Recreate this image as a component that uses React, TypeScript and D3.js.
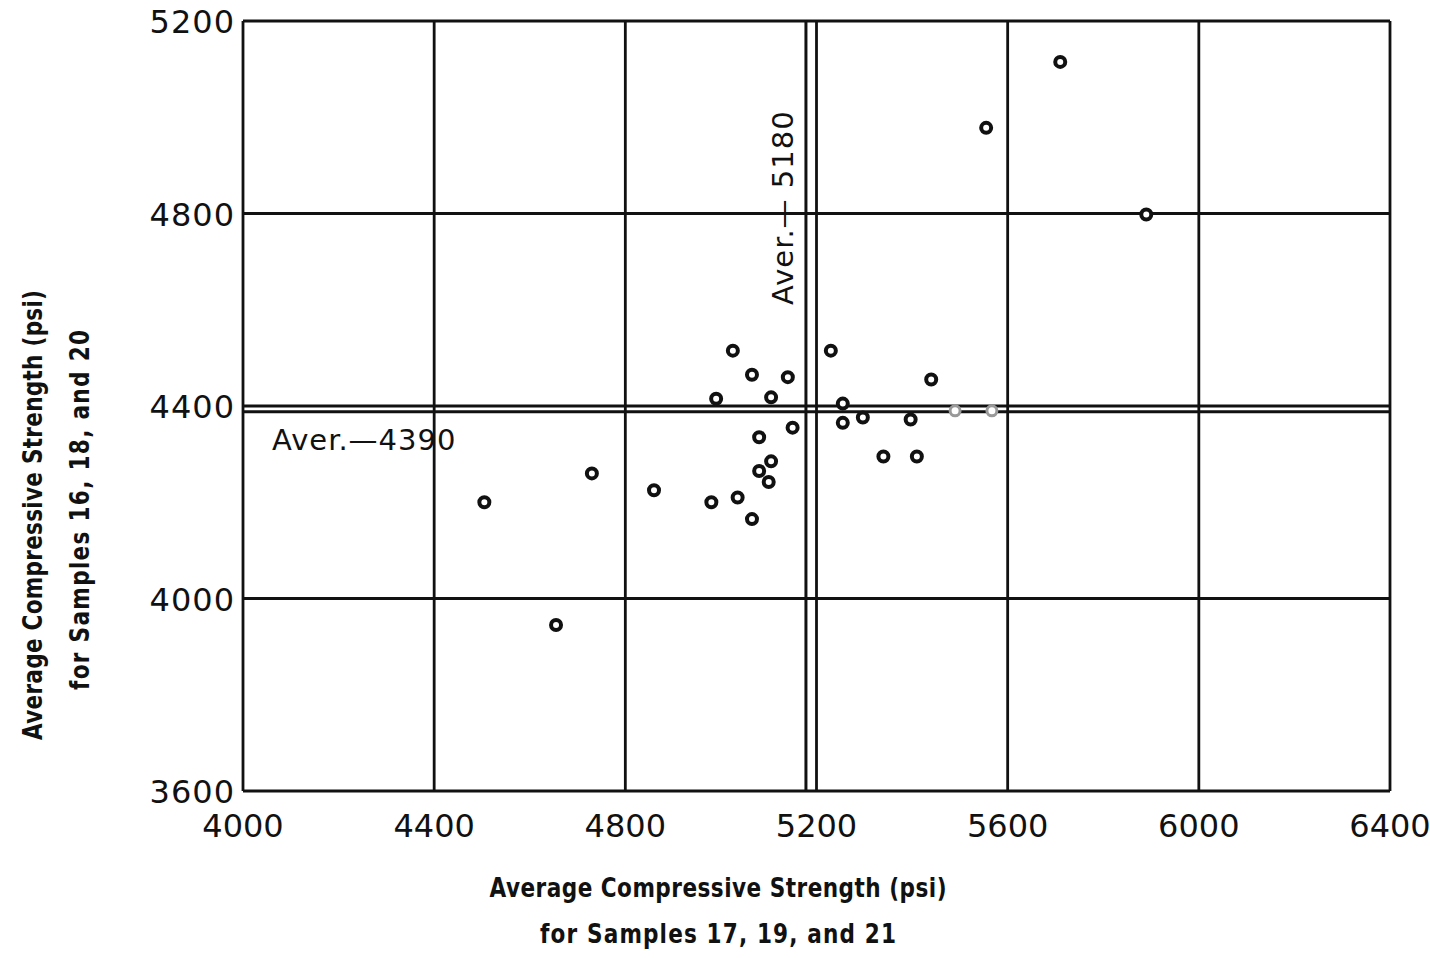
import React from "react";
import * as d3 from "d3";

// readings (psi)
const xTicks = [4000, 4400, 4800, 5200, 5600, 6000, 6400];
const yTicks = [3600, 4000, 4400, 4800, 5200];

const sampleX = [
  4505, 4655, 4730, 4860, 4980, 4990, 5025, 5035, 5065, 5065, 5080, 5080,
  5105, 5105, 5100, 5140, 5150, 5230, 5255, 5255, 5297, 5340, 5397, 5410,
  5440, 5555, 5710, 5890
];
const sampleY = [
  4200, 3945, 4260, 4225, 4200, 4415, 4515, 4210, 4465, 4165, 4335, 4265,
  4418, 4285, 4242, 4460, 4355, 4515, 4405, 4365, 4376, 4295, 4372, 4295,
  4455, 4978, 5115, 4798
];
// faded points sitting on the average line
const fadedX = [5490, 5567];
const fadedY = [4390, 4390];

const averageX = 5180;
const averageY = 4390;

const W = 1430;
const H = 958;
const margin = { top: 21, right: 40, bottom: 167, left: 243 };

const FONT = "'DejaVu Sans', Verdana, sans-serif";
const SQUEEZE = 0.8; // narrow lettering for the axis titles

const Title = ({ tx, ty, rot, len, children }) => (
  <g transform={`translate(${tx},${ty}) rotate(${rot}) scale(${SQUEEZE},1)`}>
    <text
      textAnchor="middle"
      textLength={len / SQUEEZE}
      lengthAdjust="spacing"
    >
      {children}
    </text>
  </g>
);

export default function App() {
  const x = d3
    .scaleLinear()
    .domain([4000, 6400])
    .range([margin.left, W - margin.right]);
  const y = d3
    .scaleLinear()
    .domain([3600, 5200])
    .range([H - margin.bottom, margin.top]);

  const [x0, x1] = x.range();
  const [y0, y1] = y.range();

  const points = sampleX.map((v, i) => ({ x: v, y: sampleY[i] }));
  const faded = fadedX.map((v, i) => ({ x: v, y: fadedY[i] }));

  return (
    <svg
      width={W}
      height={H}
      style={{ position: "absolute", left: 0, top: 0, background: "#fff" }}
    >
      <g className="grid" stroke="#111" strokeWidth={2.8}>
        {xTicks.map((t) => (
          <line key={"gx" + t} x1={x(t)} x2={x(t)} y1={y1} y2={y0} />
        ))}
        {yTicks.map((t) => (
          <line key={"gy" + t} x1={x0} x2={x1} y1={y(t)} y2={y(t)} />
        ))}
      </g>

      {/* average lines */}
      <g stroke="#111" strokeWidth={3}>
        <line x1={x(averageX) - 1} x2={x(averageX) - 1} y1={y1} y2={y0} />
        <line x1={x0} x2={x1} y1={y(averageY) + 1} y2={y(averageY) + 1} />
      </g>

      <text
        x={272}
        y={450}
        fontFamily={FONT}
        fontSize={29}
        letterSpacing={1}
        fill="#111"
      >
        Aver.—4390
      </text>
      <text
        transform={`translate(${x(averageX) - 14},305) rotate(-90)`}
        fontFamily={FONT}
        fontSize={29}
        letterSpacing={1}
        fill="#111"
      >
        Aver.— 5180
      </text>

      <g className="points" fill="#fff" stroke="#111" strokeWidth={4}>
        {points.map((d, i) => (
          <circle key={i} cx={x(d.x)} cy={y(d.y)} r={5} />
        ))}
      </g>
      <g fill="#fff" stroke="#999" strokeWidth={3}>
        {faded.map((d, i) => (
          <circle key={i} cx={x(d.x)} cy={y(d.y)} r={5} />
        ))}
      </g>

      <g className="x-labels" fontFamily={FONT} fontSize={32} fill="#111">
        {xTicks.map((t) => (
          <text key={t} x={x(t)} y={y0 + 46} textAnchor="middle">
            {t}
          </text>
        ))}
      </g>
      <g className="y-labels" fontFamily={FONT} fontSize={32} fill="#111">
        {yTicks.map((t) => (
          <text
            key={t}
            x={x0 - 8}
            y={y(t) + 12}
            textAnchor="end"
            letterSpacing={1}
          >
            {t}
          </text>
        ))}
      </g>

      <g fontFamily={FONT} fontWeight="bold" fontSize={27} fill="#111">
        <Title tx={718} ty={897} rot={0} len={457}>
          Average Compressive Strength (psi)
        </Title>
        <Title tx={718} ty={943} rot={0} len={356}>
          for Samples 17, 19, and 21
        </Title>
        <Title tx={42} ty={515} rot={-90} len={450}>
          Average Compressive Strength (psi)
        </Title>
        <Title tx={89} ty={510} rot={-90} len={360}>
          for Samples 16, 18, and 20
        </Title>
      </g>
    </svg>
  );
}
